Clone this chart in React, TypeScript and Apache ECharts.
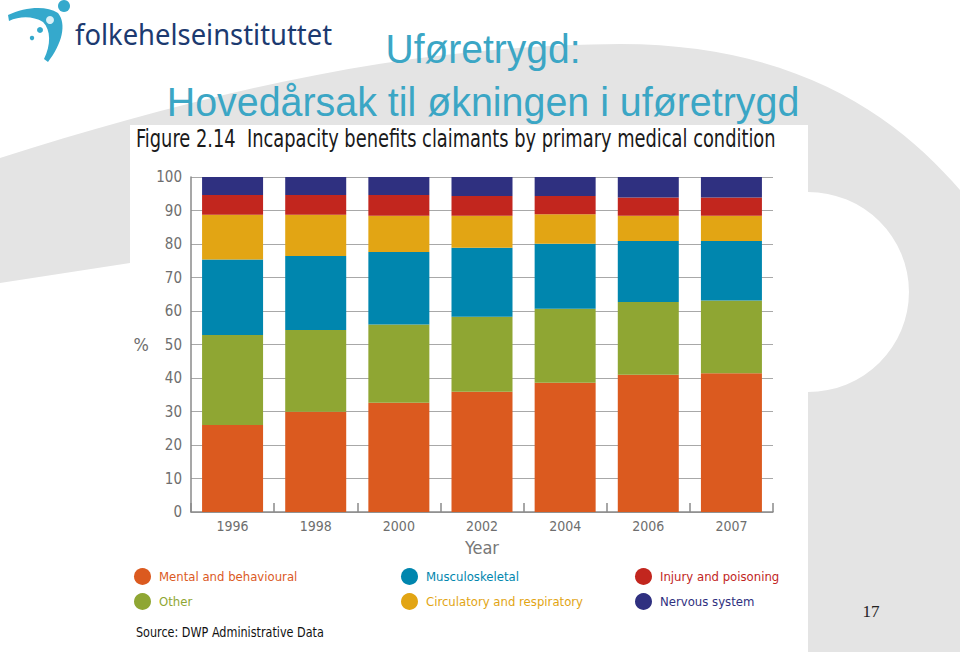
import React, { useEffect, useRef } from "react";
import * as echarts from "echarts";

const years = ["1996", "1998", "2000", "2002", "2004", "2006", "2007"];
const mental = [26.0, 29.9, 32.6, 35.9, 38.6, 41.0, 41.4];
const other = [26.8, 24.4, 23.4, 22.4, 22.1, 21.7, 21.7];
const musculo = [22.6, 22.1, 21.6, 20.6, 19.4, 18.2, 17.8];
const circulatory = [13.3, 12.3, 10.8, 9.5, 8.8, 7.5, 7.5];
const injury = [5.9, 5.9, 6.2, 5.9, 5.4, 5.5, 5.5];
const nervous = [5.4, 5.4, 5.4, 5.7, 5.7, 6.1, 6.1];

const seriesNames = [
  "Mental and behavioural",
  "Other",
  "Musculoskeletal",
  "Circulatory and respiratory",
  "Injury and poisoning",
  "Nervous system",
];
const seriesData = [mental, other, musculo, circulatory, injury, nervous];
const seriesColors = ["#db5a1f", "#8fa633", "#0086ae", "#e2a514", "#c2261e", "#2f3080"];

const slideTitle1 = "Uføretrygd:";
const slideTitle2 = "Hovedårsak til økningen i uføretrygd";
const figureTitle = "Figure 2.14  Incapacity benefits claimants by primary medical condition";
const sourceText = "Source: DWP Administrative Data";
const logoText = "folkehelseinstituttet";
const pageNumber = "17";

const NARROW = "'Liberation Sans Narrow', 'DejaVu Sans Condensed', 'Roboto', sans-serif";

echarts.graphic.registerShape(
  "fhiBg",
  echarts.graphic.extendPath(
    "M0,158 C200,95 400,45 620,44 C800,44 900,120 960,190 L960,652 L808,652 L808,392 A101,100 0 0 0 808,192 L130,263 L0,283 Z",
    {}
  )
);
echarts.graphic.registerShape(
  "fhiSwoosh",
  echarts.graphic.extendPath(
    "M8,15 C25,7 46,5 58,13 C67,24 62,44 48,62 L44,59 C51,45 51,30 43,22 C33,16 20,16 9,21 Z",
    {}
  )
);

function fitScale(text: string, font: string, target: number): number {
  try {
    const ctx = document.createElement("canvas").getContext("2d");
    if (!ctx) return 1;
    ctx.font = font;
    const w = ctx.measureText(text).width;
    return w > 0 ? target / w : 1;
  } catch (e) {
    return 1;
  }
}

export default function App() {
  const ref = useRef<HTMLDivElement>(null);

  useEffect(() => {
    if (!ref.current) return;
    const chart = echarts.init(ref.current, undefined, { renderer: "svg" });

    const titleFont = "40px 'Liberation Sans', Arial, sans-serif";
    const figFont = "24px " + NARROW;
    const logoFont = "30px 'Noto Sans', sans-serif";
    const sourceFont = "14px " + NARROW;
    const sx1 = fitScale(slideTitle1, titleFont, 195);
    const sx2 = fitScale(slideTitle2, titleFont, 633);
    const sxFig = fitScale(figureTitle, figFont, 640);
    const sxLogo = fitScale(logoText, logoFont, 257);
    const sxSource = fitScale(sourceText, sourceFont, 188);

    const legendGroups = [
      { left: 129, items: [0, 1] },
      { left: 396, items: [2, 3] },
      { left: 630, items: [4, 5] },
    ];

    chart.setOption({
      animation: false,
      backgroundColor: "#ffffff",
      grid: { left: 191, right: 187, top: 177, bottom: 143, containLabel: false },
      legend: legendGroups.map((g) => ({
        left: g.left,
        top: 563,
        orient: "vertical",
        icon: "circle",
        itemWidth: 17,
        itemHeight: 17,
        itemGap: 8,
        textStyle: { fontSize: 13, fontFamily: NARROW, padding: [0, 0, 0, 3] },
        data: g.items.map((i) => ({
          name: seriesNames[i],
          textStyle: { color: seriesColors[i] },
        })),
      })),
      xAxis: {
        type: "category",
        data: years,
        name: "Year",
        nameLocation: "middle",
        nameGap: 26,
        nameTextStyle: { color: "#777777", fontSize: 18, fontFamily: NARROW },
        axisLine: { lineStyle: { color: "#8a8a8a", width: 1.5 } },
        axisTick: { show: true, inside: true, length: 9, lineStyle: { color: "#8a8a8a", width: 1.5 } },
        axisLabel: { color: "#6e6e6e", fontSize: 14, margin: 7, fontFamily: NARROW },
      },
      yAxis: {
        type: "value",
        min: 0,
        max: 100,
        interval: 10,
        name: "%",
        nameLocation: "middle",
        nameRotate: 0,
        nameGap: 42,
        nameTextStyle: { color: "#6e6e6e", fontSize: 18, fontFamily: NARROW },
        axisLine: { show: true, lineStyle: { color: "#8a8a8a", width: 1.5 } },
        axisTick: { show: false },
        axisLabel: { color: "#6e6e6e", fontSize: 15, margin: 9, fontFamily: NARROW },
        splitLine: { show: true, lineStyle: { color: "#a8a8a8", width: 1 } },
      },
      series: seriesNames.map((name, i) => ({
        name,
        type: "bar",
        stack: "total",
        barWidth: 61,
        data: seriesData[i],
        itemStyle: { color: seriesColors[i] },
        emphasis: { disabled: true },
      })),
      graphic: [
        { type: "fhiBg", x: 0, y: 0, z: -100, silent: true, style: { fill: "#e4e4e4" } },
        { type: "rect", z: -90, silent: true, shape: { x: 130, y: 125, width: 678, height: 525 }, style: { fill: "#ffffff" } },
        { type: "fhiSwoosh", x: 0, y: 0, z: 10, silent: true, style: { fill: "#35a9cc" } },
        { type: "circle", z: 10, silent: true, shape: { cx: 64, cy: 6, r: 6 }, style: { fill: "#35a9cc" } },
        { type: "circle", z: 11, silent: true, shape: { cx: 50, cy: 20, r: 4 }, style: { fill: "#d8f0f7" } },
        { type: "circle", z: 10, silent: true, shape: { cx: 40, cy: 30, r: 3 }, style: { fill: "#35a9cc" } },
        { type: "circle", z: 10, silent: true, shape: { cx: 32, cy: 38, r: 2.2 }, style: { fill: "#35a9cc" } },
        {
          type: "text", z: 10, silent: true, x: 75, y: 33, scaleX: sxLogo,
          style: { text: logoText, font: logoFont, fill: "#1c3a70", align: "left", verticalAlign: "middle" },
        },
        {
          type: "text", z: 10, silent: true, x: 483, y: 49, scaleX: sx1,
          style: { text: slideTitle1, font: titleFont, fill: "#3ba6c5", align: "center", verticalAlign: "middle" },
        },
        {
          type: "text", z: 10, silent: true, x: 483, y: 102, scaleX: sx2,
          style: { text: slideTitle2, font: titleFont, fill: "#3ba6c5", align: "center", verticalAlign: "middle" },
        },
        {
          type: "text", z: 10, silent: true, x: 136, y: 139, scaleX: sxFig,
          style: { text: figureTitle, font: figFont, fill: "#1a1a1a", align: "left", verticalAlign: "middle" },
        },
        {
          type: "text", z: 10, silent: true, x: 136, y: 632, scaleX: sxSource,
          style: { text: sourceText, font: sourceFont, fill: "#111111", align: "left", verticalAlign: "middle" },
        },
        {
          type: "text", z: 10, silent: true, x: 871, y: 611,
          style: { text: pageNumber, font: "17px 'Liberation Serif', serif", fill: "#222222", align: "center", verticalAlign: "middle" },
        },
      ],
    });

    return () => chart.dispose();
  }, []);

  return (
    <div
      ref={ref}
      style={{ position: "fixed", left: 0, top: 0, width: 960, height: 655 }}
    />
  );
}
